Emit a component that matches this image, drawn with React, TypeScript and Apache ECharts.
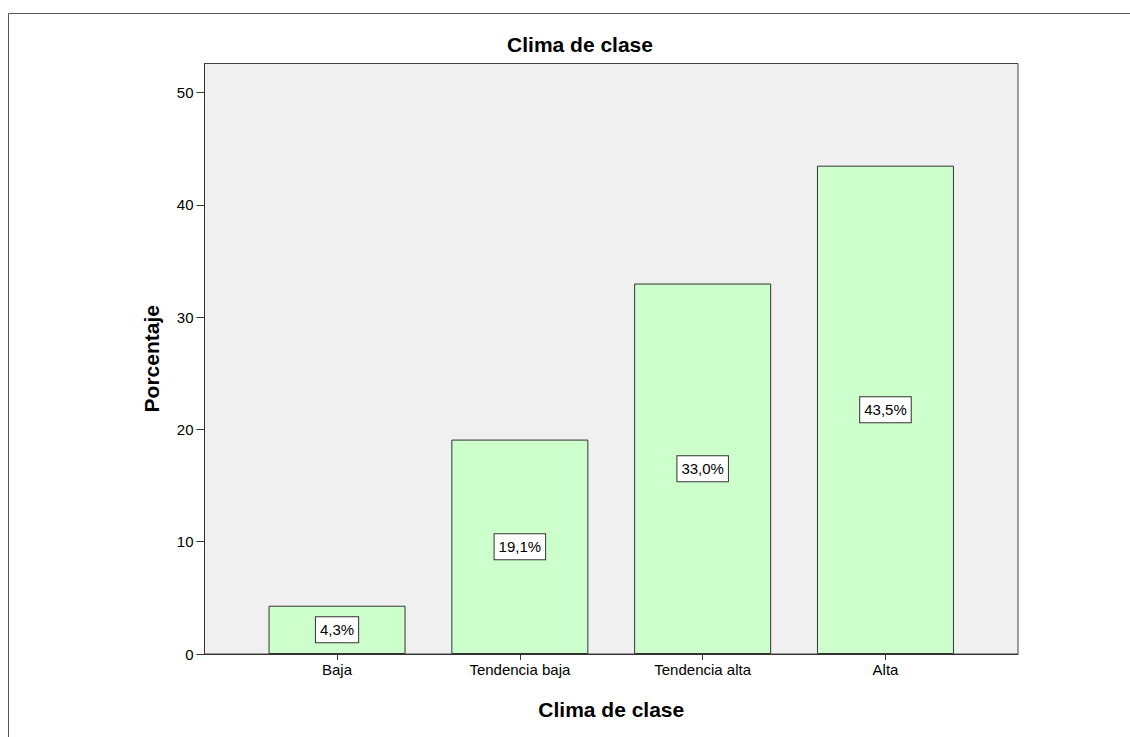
import React, { useEffect, useRef } from "react";
import * as echarts from "echarts";

const categories = ["Baja", "Tendencia baja", "Tendencia alta", "Alta"];
const percentages = [4.3, 19.1, 33.0, 43.5];
const yTicks = [0, 10, 20, 30, 40, 50];
const chartTitle = "Clima de clase";
const xTitle = "Clima de clase";
const yTitle = "Porcentaje";

const FONT = "'Liberation Sans', Arial, sans-serif";

export default function App() {
  const ref = useRef<HTMLDivElement>(null);
  useEffect(() => {
    if (!ref.current) return;
    const chart = echarts.init(ref.current, null, { renderer: "svg" });
    const idx = categories.map((_, i) => i);
    chart.setOption({
      animation: false,
      backgroundColor: "#ffffff",
      textStyle: { fontFamily: FONT },
      title: {
        text: chartTitle,
        left: 575,
        top: 29,
        textAlign: "center",
        textStyle: { fontFamily: FONT, fontSize: 21, fontWeight: "bold", color: "#000" },
      },
      graphic: [
        {
          type: "rect",
          shape: { x: 8.5, y: 13.5, width: 1140, height: 740 },
          style: { fill: "none", stroke: "#555", lineWidth: 1 },
          silent: true,
        },
      ],
      grid: {
        left: 204.5,
        right: 112,
        top: 63.5,
        bottom: 83,
        show: true,
        backgroundColor: "#f0f0f0",
        borderColor: "#444",
        borderWidth: 1,
        containLabel: false,
      },
      xAxis: {
        type: "value",
        min: -0.725,
        max: 3.725,
        name: xTitle,
        nameLocation: "middle",
        nameGap: 45,
        nameTextStyle: { fontFamily: FONT, fontSize: 21, fontWeight: "bold", color: "#000" },
        splitLine: { show: false },
        axisLine: { show: true, onZero: false, lineStyle: { color: "#333", width: 1 } },
        axisTick: { show: true, customValues: idx, length: 6, lineStyle: { color: "#333" } },
        axisLabel: {
          customValues: idx,
          formatter: (v: number) => categories[Math.round(v)] ?? "",
          color: "#000",
          fontSize: 15,
          fontFamily: FONT,
          margin: 8,
        },
      },
      yAxis: {
        type: "value",
        min: 0,
        max: 52.6,
        name: yTitle,
        nameLocation: "middle",
        nameGap: 43,
        nameTextStyle: { fontFamily: FONT, fontSize: 21, fontWeight: "bold", color: "#000" },
        splitLine: { show: false },
        axisLine: { show: true, onZero: false, lineStyle: { color: "#333", width: 1 } },
        axisTick: { show: true, customValues: yTicks, length: 8, lineStyle: { color: "#333" } },
        axisLabel: {
          customValues: yTicks,
          color: "#000",
          fontSize: 15,
          fontFamily: FONT,
          margin: 11,
        },
      },
      series: [
        {
          type: "bar",
          data: categories.map((_, i) => [i, percentages[i]]),
          barWidth: 137,
          itemStyle: { color: "#ccffcc", borderColor: "#333", borderWidth: 1 },
          label: {
            show: true,
            position: "inside",
            formatter: (p: any) => p.value[1].toFixed(1).replace(".", ",") + "%",
            color: "#000",
            fontSize: 15,
            lineHeight: 18,
            fontFamily: FONT,
            backgroundColor: "#ffffff",
            borderColor: "#333",
            borderWidth: 1,
            padding: [4, 4, 3, 4],
          },
        },
      ],
    });
    return () => chart.dispose();
  }, []);
  return (
    <div
      ref={ref}
      style={{ position: "fixed", left: 0, top: 0, width: 1130, height: 737 }}
    />
  );
}
